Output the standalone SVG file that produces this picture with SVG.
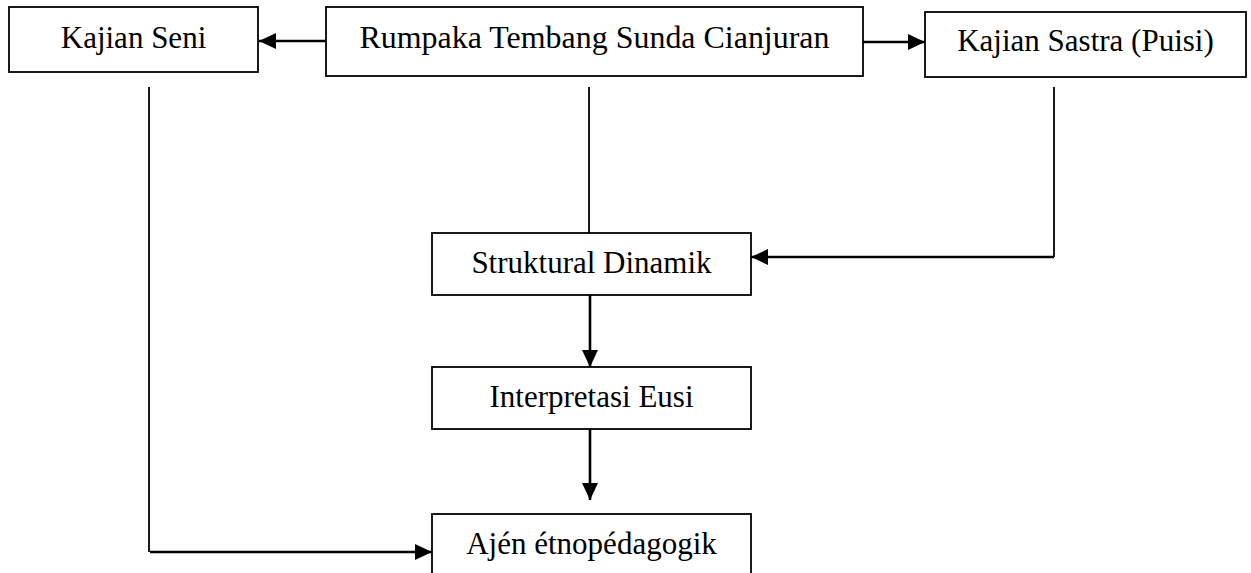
<svg xmlns="http://www.w3.org/2000/svg" width="1251" height="573" viewBox="0 0 1251 573">
  <style>
    .box { fill: #ffffff; stroke: #000000; stroke-width: 1.8; }
    .lbl { font-family: "Liberation Serif", "Times New Roman", serif; font-size: 31px; fill: #000000; text-anchor: middle; }
    .ln { fill: none; stroke: #000000; stroke-width: 1.8; }
    .arr { fill: none; stroke: #000000; stroke-width: 2.6; marker-end: url(#ah); }
  </style>
  <defs>
    <marker id="ah" markerUnits="userSpaceOnUse" markerWidth="18" markerHeight="16" refX="17" refY="8" orient="auto">
      <path d="M0,0 L17,8 L0,16 z" fill="#000000"/>
    </marker>
  </defs>
  <rect x="0" y="0" width="1251" height="573" fill="#ffffff"/>

  <g id="connectors">
    <path class="arr" d="M326,41 L259,41"/>
    <path class="arr" d="M863,42 L925,42"/>
    <path class="ln" d="M149,87 L149,552"/>
    <path class="arr" d="M150,552 L432,552"/>
    <path class="ln" d="M589,87 L589,233"/>
    <path class="ln" d="M1054,87 L1054,257"/>
    <path class="arr" d="M1054,257 L751,257"/>
    <path class="arr" d="M590,295 L590,367"/>
    <path class="arr" d="M590,429 L590,500"/>
  </g>

  <g id="kajian-seni">
    <rect class="box" x="9" y="7" width="249" height="65"/>
    <text class="lbl" x="133.5" y="48">Kajian Seni</text>
  </g>
  <g id="rumpaka">
    <rect class="box" x="326" y="7" width="537" height="69"/>
    <text class="lbl" x="594.5" y="48" textLength="470" lengthAdjust="spacingAndGlyphs">Rumpaka Tembang Sunda Cianjuran</text>
  </g>
  <g id="kajian-sastra">
    <rect class="box" x="925" y="12" width="321" height="65"/>
    <text class="lbl" x="1085.5" y="51">Kajian Sastra (Puisi)</text>
  </g>
  <g id="struktural">
    <rect class="box" x="432" y="233" width="319" height="62"/>
    <text class="lbl" x="591.5" y="273">Struktural Dinamik</text>
  </g>
  <g id="interpretasi">
    <rect class="box" x="432" y="367" width="319" height="62"/>
    <text class="lbl" x="591.5" y="407">Interpretasi Eusi</text>
  </g>
  <g id="ajen">
    <rect class="box" x="432" y="514" width="319" height="80"/>
    <text class="lbl" x="591.5" y="554">Ajén étnopédagogik</text>
  </g>
</svg>
